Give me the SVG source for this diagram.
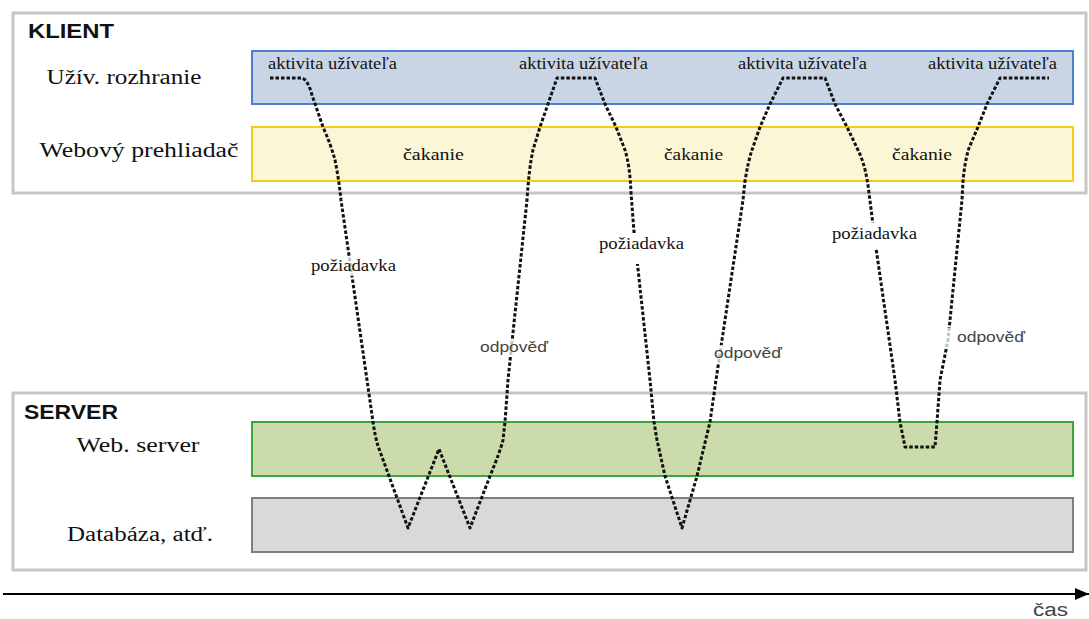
<svg xmlns="http://www.w3.org/2000/svg" width="1089" height="619" viewBox="0 0 1089 619">
  <defs>
    <style>
      .frame { fill: #ffffff; stroke: #c6c6c6; stroke-width: 3; }
      .lane-ui { fill: #c9d5e5; stroke: #4a7fd2; stroke-width: 2; }
      .lane-br { fill: #fbf6d5; stroke: #f7cb1c; stroke-width: 2; }
      .lane-ws { fill: #cbdbab; stroke: #3ba43a; stroke-width: 2; }
      .lane-db { fill: #d9d9d9; stroke: #7f7f7f; stroke-width: 2; }
      .title { font-family: "Liberation Sans", "Open Sans", sans-serif; font-weight: bold; font-size: 20px; fill: #111111; }
      .lane-label { font-family: "Liberation Serif", serif; font-size: 20px; fill: #111111; text-anchor: middle; }
      .note { font-family: "Liberation Serif", serif; font-size: 16px; fill: #111111; }
      .reply { font-family: "Liberation Sans", "Open Sans", sans-serif; font-size: 14px; fill: #444444; }
      .flow { fill: none; stroke: #111111; stroke-width: 3; stroke-dasharray: 3.5 2; stroke-linejoin: round; }
      .mask { fill: #ffffff; }
    </style>
    <marker id="arrow" markerWidth="14" markerHeight="12" refX="14" refY="6" orient="auto" markerUnits="userSpaceOnUse">
      <path d="M0,0 L14,6 L0,12 Z" fill="#000000"/>
    </marker>
  </defs>

  <rect width="1089" height="619" fill="#ffffff"/>

  <!-- client tier -->
  <g id="klient">
    <rect class="frame" x="13" y="13" width="1073" height="180"/>
    <text class="title" x="28" y="38" textLength="86" lengthAdjust="spacingAndGlyphs">KLIENT</text>
  </g>
  <g id="uziv-rozhranie">
    <rect class="lane-ui" x="252" y="51" width="821" height="53"/>
    <text class="lane-label" x="124" y="84" textLength="155" lengthAdjust="spacingAndGlyphs">Užív. rozhranie</text>
  </g>
  <g id="webovy-prehliadac">
    <rect class="lane-br" x="252" y="127" width="821" height="54"/>
    <text class="lane-label" x="139" y="157" textLength="199" lengthAdjust="spacingAndGlyphs">Webový prehliadač</text>
  </g>

  <!-- server tier -->
  <g id="server">
    <rect class="frame" x="13" y="393" width="1073" height="177"/>
    <text class="title" x="24" y="419" textLength="94" lengthAdjust="spacingAndGlyphs">SERVER</text>
  </g>
  <g id="web-server">
    <rect class="lane-ws" x="252" y="422" width="821" height="54"/>
    <text class="lane-label" x="138" y="452" textLength="123" lengthAdjust="spacingAndGlyphs">Web. server</text>
  </g>
  <g id="databaza">
    <rect class="lane-db" x="252" y="498" width="821" height="54"/>
    <text class="lane-label" x="140" y="541" textLength="146" lengthAdjust="spacingAndGlyphs">Databáza, atď.</text>
  </g>

  <!-- request / response flow -->
  <g id="connectors">
    <path class="flow" d="M270,78 L302,78 Q308,80 312,95 L323,127 Q331,145 335,160 Q339,180 341,200 L367,380 L373,422 Q375,436 378,446 L408,528 L439,449 L470,528 L490,476 Q500,452 503,440 L505,422 L508,380 L527,200 Q529,168 533,150 L540,127 L548,104 L557,78 L595,78 L605,104 L616,127 L625,150 Q630,166 631,193 L634,232 L650,380 L654,422 L657,440 L665,476 L682,528 L697,476 L710,422 L716,380 L743,200 L745,181 Q748,162 752,150 L760,127 L770,104 L783,78 L825,78 L835,104 L847,127 L858,150 Q866,166 869,193 L876,248 L895,380 L900,422 L905,447 L935,447 L937,422 L940,380 L948,340 L962,200 L963,181 Q965,160 969,148 L978,127 L987,104 L1000,78 L1049,78"/>
  </g>

  <!-- flow labels -->
  <g id="labels">
    <text class="note" x="268" y="69" textLength="129" lengthAdjust="spacingAndGlyphs">aktivita užívateľa</text>
    <text class="note" x="519" y="69" textLength="129" lengthAdjust="spacingAndGlyphs">aktivita užívateľa</text>
    <text class="note" x="738" y="69" textLength="129" lengthAdjust="spacingAndGlyphs">aktivita užívateľa</text>
    <text class="note" x="928" y="69" textLength="129" lengthAdjust="spacingAndGlyphs">aktivita užívateľa</text>

    <text class="note" x="403" y="160" textLength="61" lengthAdjust="spacingAndGlyphs">čakanie</text>
    <text class="note" x="664" y="160" textLength="59" lengthAdjust="spacingAndGlyphs">čakanie</text>
    <text class="note" x="892" y="160" textLength="60" lengthAdjust="spacingAndGlyphs">čakanie</text>

    <rect class="mask" x="310" y="256" width="88" height="20" opacity="0.75"/>
    <text class="note" x="311" y="271" textLength="85" lengthAdjust="spacingAndGlyphs">požiadavka</text>
    <rect class="mask" x="597" y="233" width="89" height="31"/>
    <text class="note" x="599" y="249" textLength="85" lengthAdjust="spacingAndGlyphs">požiadavka</text>
    <rect class="mask" x="830" y="223" width="89" height="25"/>
    <text class="note" x="832" y="239" textLength="85" lengthAdjust="spacingAndGlyphs">požiadavka</text>

    <rect class="mask" x="479" y="339" width="70" height="18" opacity="0.75"/>
    <text class="reply" x="480" y="352" textLength="68" lengthAdjust="spacingAndGlyphs">odpověď</text>
    <rect class="mask" x="713" y="345" width="70" height="18" opacity="0.75"/>
    <text class="reply" x="714" y="358" textLength="68" lengthAdjust="spacingAndGlyphs">odpověď</text>
    <rect class="mask" x="943" y="328" width="10" height="20" opacity="0.75"/>
    <text class="reply" x="957" y="342" textLength="68" lengthAdjust="spacingAndGlyphs">odpověď</text>
  </g>

  <!-- time axis -->
  <g id="time-axis">
    <line x1="3" y1="594" x2="1089" y2="594" stroke="#000000" stroke-width="2" marker-end="url(#arrow)"/>
    <text x="1033" y="616" font-family="Liberation Sans, Open Sans, sans-serif" font-size="18" fill="#444444" textLength="35" lengthAdjust="spacingAndGlyphs">čas</text>
  </g>
</svg>
